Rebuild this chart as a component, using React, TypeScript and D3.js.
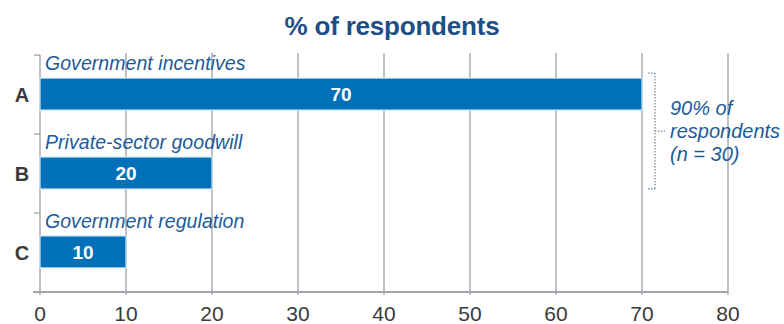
import React from "react";
import * as d3 from "d3";

const categories = ["A", "B", "C"];
const labels = ["Government incentives", "Private-sector goodwill", "Government regulation"];
const values = [70, 20, 10];
const ticks = [0, 10, 20, 30, 40, 50, 60, 70, 80];
const title = "% of respondents";
const noteLines = ["90% of", "respondents", "(n = 30)"];

const W = 784, H = 324;
const FONT = "'Liberation Sans', Arial, Helvetica, sans-serif";

export default function App() {
  const x = d3.scaleLinear().domain([0, 80]).range([40, 728]);
  const y = d3.scaleBand().domain(categories).range([56, 290]).paddingInner(0.595).paddingOuter(0.28);
  const barH = y.bandwidth();
  const barY = (c: string) => y(c) as number;
  const gridTop = 53, base = 292;
  const groupTops = categories.map((c) => barY(c) - 23);
  const bracketTop = barY("A") - 5;
  const bracketBot = barY("B") + barH;
  const bx = 655;
  const bmid = (bracketTop + bracketBot) / 2;
  const gray = "#a3a7ad";
  return (
    <svg width={W} height={H} style={{ position: "absolute", left: 0, top: 0, background: "#fff" }}>
      <text x={392} y={35} textAnchor="middle" fontFamily={FONT} fontWeight="bold" fontSize={26} fill="#1d4f86" letterSpacing={-0.2}>{title}</text>
      {ticks.slice(1).map((t) => (
        <line key={t} x1={x(t)} x2={x(t)} y1={gridTop} y2={base + 3} stroke={gray} strokeWidth={1.4} />
      ))}
      <line x1={x(0)} x2={x(0)} y1={groupTops[0]} y2={base + 3} stroke={gray} strokeWidth={1.4} />
      {groupTops.map((g, i) => (
        <line key={i} x1={34} x2={x(0)} y1={g} y2={g} stroke={gray} strokeWidth={1.4} />
      ))}
      <line x1={33} x2={x(80)} y1={base} y2={base} stroke={gray} strokeWidth={2.2} />
      {ticks.map((t) => (
        <text key={t} x={x(t)} y={321} textAnchor="middle" fontFamily={FONT} fontSize={21} fill="#3a3a3a">{t}</text>
      ))}
      {categories.map((c, i) => {
        const by = barY(c);
        return (
          <g key={c}>
            <rect x={x(0)} y={by} width={x(values[i]) - x(0)} height={barH} fill="#0071b8" stroke="#cfe6f5" strokeWidth={1.2} />
            <text x={(x(0) + x(values[i])) / 2} y={by + barH / 2 + 7} textAnchor="middle" fontFamily={FONT} fontWeight="bold" fontSize={19} fill="#fff">{values[i]}</text>
            <text x={22} y={by + barH / 2 + 8} textAnchor="middle" fontFamily={FONT} fontWeight="bold" fontSize={20} fill="#3a3a3a">{c}</text>
            <text x={45} y={by - 8} fontFamily={FONT} fontStyle="italic" fontSize={19.5} fill="#1d5a9a" letterSpacing={0.05}>{labels[i]}</text>
          </g>
        );
      })}
      <g stroke="#7a8a9a" strokeWidth={1.3} strokeDasharray="1.5,1.5" fill="none">
        <line x1={bx} x2={bx} y1={bracketTop} y2={bracketBot} />
        <line x1={648} x2={bx} y1={bracketTop} y2={bracketTop} />
        <line x1={648} x2={bx} y1={bracketBot} y2={bracketBot} />
        <line x1={bx} x2={665} y1={bmid} y2={bmid} />
      </g>
      {noteLines.map((l, i) => (
        <text key={i} x={670} y={115 + i * 23} fontFamily={FONT} fontStyle="italic" fontSize={20} fill="#1d5a9a">{l}</text>
      ))}
    </svg>
  );
}
